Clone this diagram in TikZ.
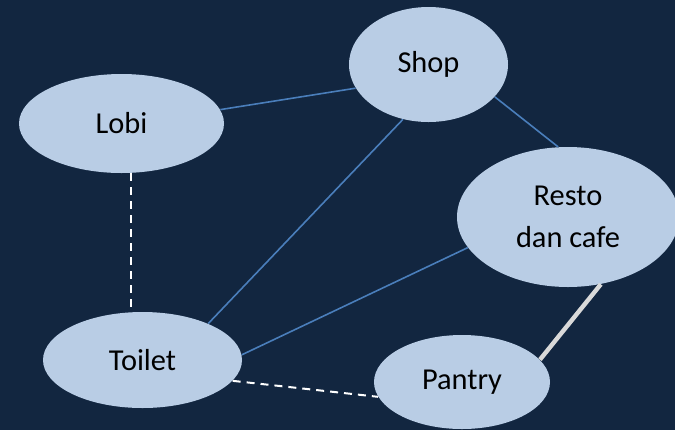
\documentclass[tikz,border=0pt]{standalone}
\usepackage{fontspec}
\setmainfont{Carlito}
\usetikzlibrary{shapes.geometric}

\definecolor{bgnavy}{RGB}{18,38,64}
\definecolor{roomfill}{RGB}{185,205,229}
\definecolor{linkblue}{RGB}{74,126,187}
\definecolor{linkgray}{RGB}{217,217,217}

\tikzset{
  room/.style={ellipse, fill=roomfill, inner sep=0pt, font=\fontsize{15.2}{21}\selectfont, align=center},
  link/.style={linkblue, line width=0.8pt},
  walk/.style={white, line width=1pt, dash pattern=on 4pt off 3pt},
  door/.style={linkgray, line width=2.2pt}
}

\begin{document}
\begin{tikzpicture}[x=0.5pt, y=-0.5pt]

     % background
     \fill[bgnavy] (0,0) rectangle (675,430);
     \useasboundingbox (0,0) rectangle (675,430);
     \clip (0,0) rectangle (675,430);

     % rooms
     \node[room, minimum width=102.5pt, minimum height=49.5pt] (lobi) at (121.5,123.5) {Lobi};
     \node[room, minimum width=79.5pt, minimum height=57.5pt] (shop) at (428.5,64.5) {Shop};
     \node[room, minimum width=111pt, minimum height=70pt] (resto) at (568,217) {Resto\\dan cafe};
     \node[room, minimum width=99.5pt, minimum height=48pt] (toilet) at (142.5,360) {Toilet};
     \node[room, minimum width=88pt, minimum height=47pt] (pantry) at (462,382) {Pantry};

     % links
     \draw[link] (lobi.8.6) -- (shop.198.7);
     \draw[link] (shop.245.8) -- (toilet.29.5);
     \draw[link] (shop.-26.4) -- (resto.98);
     \draw[link] (toilet.3) -- (resto.197.5);

     % walkways
     \draw[walk] ([xshift=4.75pt]lobi.south) -- ([xshift=4.75pt]lobi.south |- toilet.north);
     \draw[walk] (toilet.-13.4) -- (pantry.190.8);

     % service door
     \draw[door] (resto.-64.8) -- (pantry.16.4);

\end{tikzpicture}
\end{document}
